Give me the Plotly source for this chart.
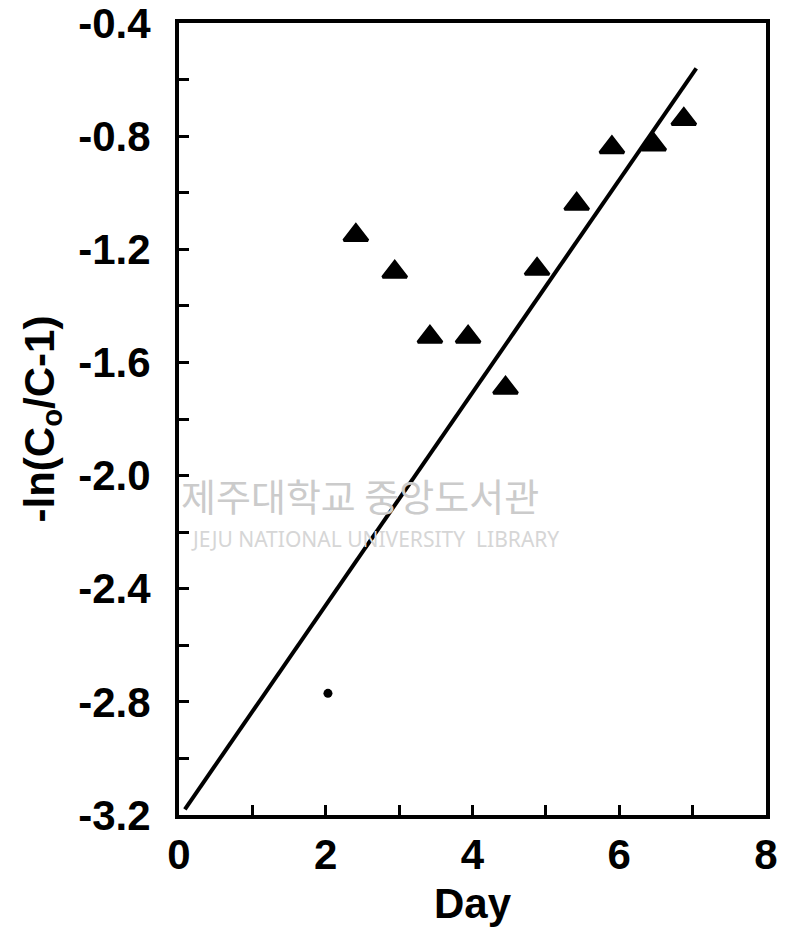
import plotly.graph_objects as go

# Data
days = [2.41, 2.94, 3.42, 3.94, 4.45, 4.88, 5.42, 5.90, 6.47, 6.88]
values = [-1.15, -1.28, -1.51, -1.51, -1.69, -1.27, -1.04, -0.84, -0.83, -0.74]
dot_day = [2.03]
dot_value = [-2.77]
fit_day = [0.08, 7.05]
fit_value = [-3.18, -0.56]

x_tickvals = [0, 2, 4, 6, 8]
x_ticktext = ["0", "2", "4", "6", "8"]
y_tickvals = [-0.4, -0.8, -1.2, -1.6, -2.0, -2.4, -2.8, -3.2]
y_ticktext = ["-0.4", "-0.8", "-1.2", "-1.6", "-2.0", "-2.4", "-2.8", "-3.2"]

FONT = "Liberation Sans"
TXT = dict(family=FONT, size=42, color="black", weight="bold")

fig = go.Figure()
fig.add_trace(go.Scatter(x=fit_day, y=fit_value, mode="lines",
                         line=dict(color="black", width=4), showlegend=False,
                         hoverinfo="skip"))
fig.add_trace(go.Scatter(x=days, y=values, mode="markers",
                         marker=dict(symbol="triangle-up", size=21, color="black",
                                     line=dict(color="black", width=3)),
                         showlegend=False))
fig.add_trace(go.Scatter(x=dot_day, y=dot_value, mode="markers",
                         marker=dict(symbol="circle", size=9, color="black"),
                         showlegend=False))

# faint library watermark
fig.add_annotation(x=0.308, y=0.405, xref="paper", yref="paper", xanchor="center",
                   text="제주대학교 중앙도서관", showarrow=False,
                   font=dict(family="Noto Sans CJK KR", size=38, color="#cbcbcb"))
fig.add_annotation(x=0.334, y=0.349, xref="paper", yref="paper", xanchor="center",
                   text="JEJU NATIONAL UNIVERSITY  LIBRARY", showarrow=False,
                   font=dict(family="Noto Sans", size=21, color="#d6d6d6"))

axis_common = dict(showline=True, linecolor="black", linewidth=4, mirror=True,
                   ticks="inside", ticklen=10, tickwidth=3, tickcolor="black",
                   showgrid=False, zeroline=False, automargin=False,
                   ticklabeloverflow="allow", tickfont=TXT)

fig.update_xaxes(range=[-0.0001, 8.0001], tickmode="array", tickvals=x_tickvals,
                 ticktext=x_ticktext,
                 minor=dict(dtick=1, tick0=0, ticks="inside", ticklen=10, tickwidth=3,
                            tickcolor="black"),
                 title=dict(text="Day", font=TXT, standoff=12),
                 **axis_common)
fig.update_yaxes(range=[-3.2001, -0.3999], tickmode="array", tickvals=y_tickvals,
                 ticktext=y_ticktext,
                 minor=dict(dtick=0.2, tick0=-0.4, ticks="inside", ticklen=10, tickwidth=3,
                            tickcolor="black"),
                 ticklabelstandoff=16,
                 title=dict(text="-ln(C<sub>o</sub>/C-1)", font=TXT, standoff=12),
                 **axis_common)

fig.update_layout(width=780, height=921, plot_bgcolor="white", paper_bgcolor="white",
                  margin=dict(l=171, r=22, t=15, b=114))

fig.write_html("out.html")
